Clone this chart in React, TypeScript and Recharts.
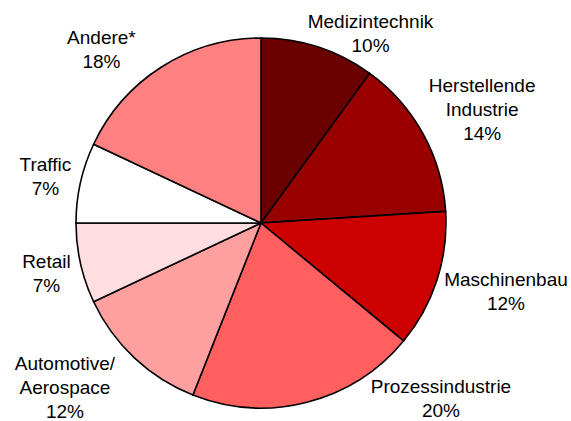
import React from 'react';
import { PieChart, Pie, Cell } from 'recharts';

// Sector names ("\n" marks where the label wraps)
const sectors = [
  'Medizintechnik',
  'Herstellende\nIndustrie',
  'Maschinenbau',
  'Prozessindustrie',
  'Automotive/\nAerospace',
  'Retail',
  'Traffic',
  'Andere*',
];

// Share of each sector in percent
const shares = [10, 14, 12, 20, 12, 7, 7, 18];

const sliceColors = ['#6b0000', '#990000', '#cc0000', '#ff5f5f', '#ffa0a0', '#ffdde0', '#ffffff', '#ff8080'];

// hand tuned shifts so the labels sit where the original put them
const labelNudge: [number, number][] = [
  [40, 24],
  [24, -6],
  [31, -2],
  [124, -42.5],
  [-42, 0],
  [5, 1],
  [4, 2],
  [-39, 16],
];

const data = sectors.map((name, i) => ({ name, value: shares[i] }));

const RADIAN = Math.PI / 180;
const LINE_H = 24;

const renderLabel = (props: any) => {
  const { cx, cy, midAngle, outerRadius, index } = props;
  const r = outerRadius + 40;
  const [dx, dy] = labelNudge[index] || [0, 0];
  const ax = cx + r * Math.cos(-midAngle * RADIAN) + dx;
  const ay = cy + r * Math.sin(-midAngle * RADIAN) + dy;
  const lines = [...data[index].name.split('\n'), `${data[index].value}%`];
  const n = lines.length;
  return (
    <text
      key={`lbl-${index}`}
      x={ax}
      y={ay}
      textAnchor="middle"
      fill="#000"
      fontSize={19}
      fontFamily="'Liberation Sans', Arial, sans-serif"
    >
      {lines.map((line, i) => (
        <tspan key={i} x={ax} y={ay + (i - (n - 1) / 2) * LINE_H + 7}>
          {line}
        </tspan>
      ))}
    </text>
  );
};

export default function App() {
  return (
    <div style={{ position: 'absolute', left: 0, top: 0, width: 571, height: 421, background: '#fff' }}>
      <PieChart width={571} height={421} margin={{ top: 0, right: 0, bottom: 0, left: 0 }}>
        <Pie
          data={data}
          dataKey="value"
          nameKey="name"
          cx={261}
          cy={223}
          outerRadius={185}
          startAngle={90}
          endAngle={-270}
          stroke="#000"
          strokeWidth={1.6}
          label={renderLabel}
          labelLine={false}
          isAnimationActive={false}
        >
          {data.map((entry, i) => (
            <Cell key={`cell-${i}`} fill={sliceColors[i]} stroke="#000" strokeWidth={1.6} />
          ))}
        </Pie>
      </PieChart>
    </div>
  );
}
